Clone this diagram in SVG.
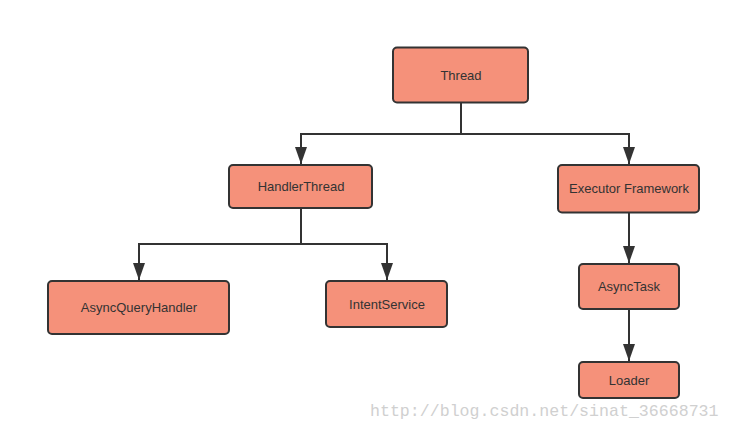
<svg xmlns="http://www.w3.org/2000/svg" width="731" height="430" viewBox="0 0 731 430">
<style>
.n rect{fill:#F5917A;stroke:#333;stroke-width:2}
.n text{font-family:"Liberation Sans",Arial,sans-serif;font-size:13px;fill:#333;text-anchor:middle;dominant-baseline:central}
.c path{fill:none;stroke:#333;stroke-width:2}
.wm{font-family:"Liberation Mono","DejaVu Sans Mono",monospace;font-size:16.6px;fill:#d0d0d0}
</style>
<defs>
<marker id="ah" markerUnits="userSpaceOnUse" markerWidth="12" markerHeight="17" viewBox="0 0 12 17" refX="6" refY="17" orient="auto-start-reverse">
<path d="M0,0 L12,0 L6,17 Z" fill="#333" transform="rotate(0)"/>
</marker>
<marker id="a" markerUnits="userSpaceOnUse" markerWidth="17" markerHeight="12" viewBox="0 0 17 12" refX="17" refY="6" orient="auto">
<path d="M0,0 L17,6 L0,12 Z" fill="#333"/>
</marker>
</defs>
<rect width="731" height="430" fill="#fff"/>
<g class="c" id="connectors">
<path d="M461,103 V134"/>
<path d="M461,134 H301 V164" marker-end="url(#a)"/>
<path d="M461,134 H629 V164" marker-end="url(#a)"/>
<path d="M301,208 V244"/>
<path d="M301,244 H139 V280" marker-end="url(#a)"/>
<path d="M301,244 H387 V280" marker-end="url(#a)"/>
<path d="M629,213 V263" marker-end="url(#a)"/>
<path d="M629,309 V361" marker-end="url(#a)"/>
</g>
<g class="n" id="thread"><rect x="393" y="47.5" width="135" height="55" rx="4"/><text x="461" y="75">Thread</text></g>
<g class="n" id="handlerthread"><rect x="229" y="165" width="143" height="43" rx="4"/><text x="301" y="186.5">HandlerThread</text></g>
<g class="n" id="executor"><rect x="558" y="165" width="141" height="47.5" rx="4"/><text x="629" y="188.5">Executor Framework</text></g>
<g class="n" id="asyncqueryhandler"><rect x="48" y="281" width="181" height="53" rx="4"/><text x="139" y="307.5">AsyncQueryHandler</text></g>
<g class="n" id="intentservice"><rect x="326" y="281" width="121" height="46" rx="4"/><text x="387" y="304">IntentService</text></g>
<g class="n" id="asynctask"><rect x="579" y="264" width="100" height="45" rx="4"/><text x="629" y="286.5">AsyncTask</text></g>
<g class="n" id="loader"><rect x="579" y="362" width="100" height="36" rx="4"/><text x="629" y="380">Loader</text></g>
<text class="wm" x="370" y="416">http://blog.csdn.net/sinat_36668731</text>
</svg>
